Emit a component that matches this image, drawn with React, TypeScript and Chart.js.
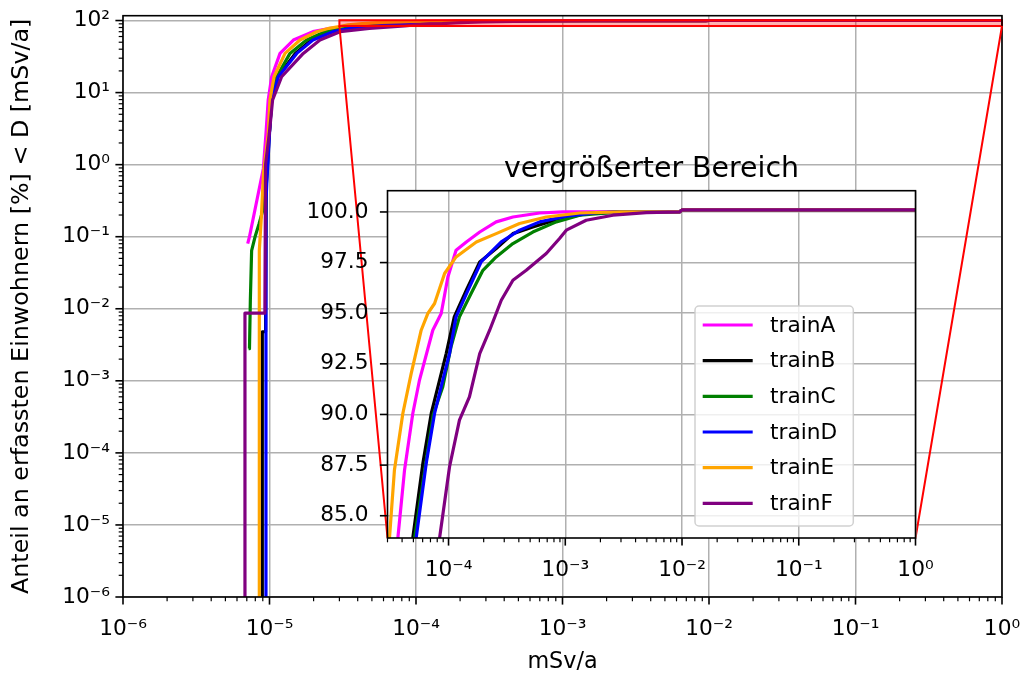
import React, { useEffect, useRef } from 'react';
import { Chart, registerables } from 'chart.js';

Chart.register(...registerables);

// ---------------- data ----------------
const seriesNames = ['trainA', 'trainB', 'trainC', 'trainD', 'trainE', 'trainF'];
const seriesColors = ['#ff00ff', '#000000', '#008000', '#0000ff', '#ffa500', '#800080'];

const trainAX = [7.1e-6, 7.3e-6, 9.08e-6, 9.46e-6, 9.8e-6, 1.035e-5, 1.18e-5, 1.456e-5, 1.98e-5, 2.6e-5, 3.68e-5, 4.2e-5, 4.94e-5, 5.64e-5, 7.33e-5, 8.65e-5, 9.87e-5, 1.16e-4, 1.42e-4, 1.85e-4, 2.56e-4, 3.56e-4, 6.03e-4, 9.55e-4, 3e-3, 9.5e-3, 1e-2, 1];
const trainAY = [0.08, 0.1, 0.885, 2.7, 7.9, 16.6, 35, 53.6, 70, 78, 83.9, 87.26, 90.05, 91.7, 94.16, 94.99, 96.79, 98.11, 98.52, 99.01, 99.51, 99.75, 99.95, 100, 100, 100, 100.1, 100.1];

const trainBX = [8.93e-6, 8.93e-6, 9.4e-6, 9.5e-6, 9.97e-6, 1.035e-5, 1.14e-5, 1.5e-5, 1.93e-5, 2.6e-5, 3.3e-5, 4.94e-5, 6.03e-5, 7.11e-5, 8.38e-5, 9.55e-5, 1.12e-4, 1.42e-4, 1.85e-4, 2.56e-4, 3.56e-4, 5.27e-4, 8.38e-4, 1.51e-3, 3e-3, 9.5e-3, 1e-2, 1];
const trainBY = [0, 0.0048, 0.0048, 0.5, 2.7, 7.9, 16.6, 35, 53.6, 70, 78, 83.9, 87.59, 90.05, 91.7, 93.01, 94.82, 96.14, 97.53, 98.19, 98.93, 99.26, 99.62, 99.92, 100, 100, 100.1, 100.1];

const trainCX = [7.2e-6, 7.3e-6, 7.4e-6, 7.55e-6, 7.96e-6, 8.48e-6, 8.99e-6, 9.3e-6, 9.97e-6, 1.035e-5, 1.12e-5, 1.38e-5, 1.79e-5, 2.4e-5, 3.2e-5, 5.12e-5, 6.3e-5, 7.4e-5, 8.93e-5, 1.05e-4, 1.24e-4, 1.56e-4, 1.97e-4, 2.56e-4, 3.56e-4, 5.27e-4, 8.38e-4, 1.33e-3, 3e-3, 9.5e-3, 1e-2, 1];
const trainCY = [0.0028, 0.0028, 0.013, 0.064, 0.099, 0.15, 0.23, 0.93, 2.7, 7.9, 16.6, 35, 53.6, 70, 78, 83.9, 87.4, 90.0, 91.37, 93.34, 94.82, 95.97, 97.12, 97.78, 98.44, 99.01, 99.51, 99.84, 100, 100, 100.1, 100.1];

const trainDX = [9.46e-6, 9.46e-6, 9.6e-6, 1.0e-5, 1.035e-5, 1.148e-5, 1.535e-5, 1.98e-5, 2.71e-5, 3.6e-5, 5.28e-5, 6.44e-5, 7.59e-5, 8.93e-5, 1.02e-4, 1.16e-4, 1.47e-4, 1.9e-4, 2.83e-4, 4.06e-4, 6.03e-4, 1.02e-3, 1.85e-3, 3e-3, 9.5e-3, 1e-2, 1];
const trainDY = [0, 0.3, 0.6, 2.7, 7.9, 16.6, 35, 53.6, 70, 78, 83.9, 87.59, 90.05, 91.7, 93.01, 94.82, 96.14, 97.53, 98.52, 99.1, 99.51, 99.79, 99.97, 100, 100, 100.1, 100.1];

const trainEX = [8.52e-6, 8.52e-6, 8.8e-6, 9.1e-6, 9.8e-6, 1.007e-5, 1.074e-5, 1.276e-5, 1.615e-5, 2.1e-5, 2.55e-5, 3.12e-5, 3.44e-5, 4.06e-5, 4.79e-5, 5.83e-5, 6.65e-5, 7.59e-5, 9.25e-5, 1.16e-4, 1.73e-4, 2.56e-4, 4.06e-4, 6.87e-4, 1.33e-3, 3e-3, 9.5e-3, 1e-2, 1];
const trainEY = [0, 0.064, 0.19, 0.77, 2.7, 7.9, 16.6, 35, 53.6, 70, 78, 83.9, 87.26, 90.05, 92.03, 94.16, 94.99, 95.48, 96.96, 97.78, 98.52, 98.93, 99.43, 99.75, 99.95, 100, 100, 100.1, 100.1];

const trainFX = [6.8e-6, 6.8e-6, 9.3e-6, 9.4e-6, 9.97e-6, 1.05e-5, 1.21e-5, 1.7e-5, 2.21e-5, 3.03e-5, 4.8e-5, 8.38e-5, 1.02e-4, 1.24e-4, 1.51e-4, 1.85e-4, 2.25e-4, 2.83e-4, 3.56e-4, 4.63e-4, 6.87e-4, 8.93e-4, 1.02e-3, 1.51e-3, 2.56e-3, 4.94e-3, 9.5e-3, 1e-2, 1];
const trainFY = [0, 0.0087, 0.0087, 1.0, 2.7, 7.9, 16.6, 35, 53.6, 70, 78, 83.9, 87.42, 89.72, 90.87, 93.01, 94.16, 95.64, 96.63, 97.12, 97.95, 98.69, 99.1, 99.59, 99.84, 99.97, 100, 100.1, 100.1];

const seriesX = [trainAX, trainBX, trainCX, trainDX, trainEX, trainFX];
const seriesY = [trainAY, trainBY, trainCY, trainDY, trainEY, trainFY];

const mainXRange = [1e-6, 1];
const mainYRange = [1e-6, 116.7];
const insetXRange = [3e-5, 1];
const insetYRange = [83.9, 101.05];
const insetYTicks = [85, 87.5, 90, 92.5, 95, 97.5, 100];

const xTitle = 'mSv/a';
const yTitle = 'Anteil an erfassten Einwohnern [%] < D [mSv/a]';
const insetTitle = 'vergrößerter Bereich';

// ---------------- helpers ----------------
const FONT = 'DejaVu Sans';
const FS = 21.7;
const GRID = '#b0b0b0';
const LOG_FLOOR = 1e-9; // where 0 % lands on a log axis (below the plot, clipped)

const SUP: Record<string, string> = { '-': '⁻', '0': '⁰', '1': '¹', '2': '²', '3': '³', '4': '⁴', '5': '⁵', '6': '⁶', '7': '⁷', '8': '⁸', '9': '⁹' };
const isDecade = (v: number) => {
  const l = Math.log10(v);
  return Math.abs(l - Math.round(l)) < 1e-6;
};
const powLabel = (v: number) => '10' + String(Math.round(Math.log10(v))).split('').map((c) => SUP[c]).join('');
const logTicks = (min: number, max: number) => {
  const out: number[] = [];
  for (let e = Math.floor(Math.log10(min)); e <= Math.ceil(Math.log10(max)); e++) {
    for (let m = 1; m < 10; m++) {
      const v = Number((m * Math.pow(10, e)).toPrecision(10));
      if (v >= min * (1 - 1e-9) && v <= max * (1 + 1e-9)) out.push(v);
    }
  }
  return out;
};
const fixSize = (prop: 'width' | 'height', size: number) => (s: any) => {
  s[prop] = size;
  s.paddingLeft = 0;
  s.paddingRight = 0;
  s.paddingTop = 0;
  s.paddingBottom = 0;
};

function drawTickMarks(chart: any, axisId: string, side: 'bottom' | 'left', allMajor: boolean) {
  const { ctx, chartArea: a } = chart;
  const s = chart.scales[axisId];
  ctx.save();
  ctx.strokeStyle = '#000';
  for (const t of s.ticks) {
    const major = allMajor || isDecade(t.value);
    const len = major ? 7.6 : 4.3;
    ctx.lineWidth = major ? 1.6 : 1.2;
    const p = s.getPixelForValue(t.value);
    ctx.beginPath();
    if (side === 'bottom') {
      ctx.moveTo(p, a.bottom);
      ctx.lineTo(p, a.bottom + len);
    } else {
      ctx.moveTo(a.left - len, p);
      ctx.lineTo(a.left, p);
    }
    ctx.stroke();
  }
  ctx.restore();
}

function drawFrame(ctx: CanvasRenderingContext2D, a: any) {
  ctx.save();
  ctx.strokeStyle = '#000';
  ctx.lineWidth = 1.6;
  ctx.strokeRect(a.left, a.top, a.right - a.left, a.bottom - a.top);
  ctx.restore();
}

function drawLegend(ctx: CanvasRenderingContext2D, a: any) {
  const w = 158.3;
  const h = 220;
  const left = a.right - 62.2 - w;
  const top = a.bottom - 12 - h;
  const r = 4;
  ctx.save();
  ctx.beginPath();
  ctx.moveTo(left + r, top);
  ctx.arcTo(left + w, top, left + w, top + h, r);
  ctx.arcTo(left + w, top + h, left, top + h, r);
  ctx.arcTo(left, top + h, left, top, r);
  ctx.arcTo(left, top, left + w, top, r);
  ctx.closePath();
  ctx.fillStyle = 'rgba(255,255,255,0.8)';
  ctx.fill();
  ctx.strokeStyle = 'rgba(204,204,204,0.9)';
  ctx.lineWidth = 1.5;
  ctx.stroke();
  ctx.font = `${FS}px "${FONT}"`;
  ctx.textBaseline = 'middle';
  ctx.textAlign = 'left';
  seriesNames.forEach((n, i) => {
    const y = top + 19 + i * 35.66;
    ctx.strokeStyle = seriesColors[i];
    ctx.lineWidth = 3.2;
    ctx.beginPath();
    ctx.moveTo(left + 7.7, y);
    ctx.lineTo(left + 57.7, y);
    ctx.stroke();
    ctx.fillStyle = '#000';
    ctx.fillText(n, left + 75, y + 1);
  });
  ctx.restore();
}

const makeDatasets = (logY: boolean) =>
  seriesNames.map((name, i) => ({
    label: name,
    data: seriesX[i].map((x, j) => ({ x, y: logY ? Math.max(seriesY[i][j], LOG_FLOOR) : seriesY[i][j] })),
    borderColor: seriesColors[i],
    backgroundColor: seriesColors[i],
    borderWidth: 3.2,
    pointRadius: 0,
    tension: 0,
    fill: false,
    order: seriesNames.length - i,
    clip: 0,
    borderJoinStyle: 'round' as const,
  }));

export default function App() {
  const mainRef = useRef<HTMLCanvasElement>(null);
  const insetRef = useRef<HTMLCanvasElement>(null);

  useEffect(() => {
    if (!mainRef.current || !insetRef.current) return;
    const tickFont = { family: FONT, size: FS };

    const inset = new Chart(insetRef.current, {
      type: 'line',
      data: { datasets: makeDatasets(false) as any },
      options: {
        responsive: false,
        animation: false,
        devicePixelRatio: 1,
        events: [],
        layout: { padding: { left: 300, top: 190.7, right: 108.5, bottom: 100 } },
        plugins: { legend: { display: false }, tooltip: { enabled: false }, title: { display: false } },
        scales: {
          x: {
            type: 'logarithmic',
            position: 'bottom',
            min: insetXRange[0],
            max: insetXRange[1],
            afterBuildTicks: (s: any) => {
              s.ticks = logTicks(insetXRange[0], insetXRange[1]).map((v) => ({ value: v }));
            },
            afterFit: fixSize('height', 41),
            grid: { color: (c: any) => (c.tick && isDecade(c.tick.value) ? GRID : 'rgba(0,0,0,0)'), lineWidth: 1.5, drawTicks: false },
            border: { display: false },
            ticks: {
              autoSkip: false,
              maxRotation: 0,
              minRotation: 0,
              padding: 19,
              color: '#000',
              font: tickFont,
              callback: (v: any) => (isDecade(Number(v)) ? powLabel(Number(v)) : ''),
            },
          },
          y: {
            type: 'linear',
            position: 'left',
            min: insetYRange[0],
            max: insetYRange[1],
            afterBuildTicks: (s: any) => {
              s.ticks = insetYTicks.map((v) => ({ value: v }));
            },
            afterFit: fixSize('width', 87.5),
            grid: { color: GRID, lineWidth: 1.5, drawTicks: false },
            border: { display: false },
            ticks: {
              autoSkip: false,
              padding: 19,
              color: '#000',
              font: tickFont,
              callback: (v: any) => Number(v).toFixed(1),
            },
          },
        },
      } as any,
      plugins: [
        {
          id: 'insetDecor',
          beforeDraw: (chart: any) => {
            const a = chart.chartArea;
            chart.ctx.save();
            chart.ctx.fillStyle = '#ffffff';
            chart.ctx.fillRect(a.left, a.top, a.right - a.left, a.bottom - a.top);
            chart.ctx.restore();
          },
          afterDraw: (chart: any) => {
            const { ctx, chartArea: a } = chart;
            drawTickMarks(chart, 'x', 'bottom', false);
            drawTickMarks(chart, 'y', 'left', true);
            drawFrame(ctx, a);
            drawLegend(ctx, a);
            ctx.save();
            ctx.font = `28.4px "${FONT}"`;
            ctx.fillStyle = '#000';
            ctx.textAlign = 'center';
            ctx.textBaseline = 'alphabetic';
            ctx.fillText(insetTitle, (a.left + a.right) / 2, a.top - 14);
            ctx.restore();
          },
        },
      ],
    });

    const main = new Chart(mainRef.current, {
      type: 'line',
      data: { datasets: makeDatasets(true) as any },
      options: {
        responsive: false,
        animation: false,
        devicePixelRatio: 1,
        events: [],
        layout: { padding: { left: 0, top: 15.7, right: 22, bottom: 0 } },
        plugins: { legend: { display: false }, tooltip: { enabled: false }, title: { display: false } },
        scales: {
          x: {
            type: 'logarithmic',
            position: 'bottom',
            min: mainXRange[0],
            max: mainXRange[1],
            afterBuildTicks: (s: any) => {
              s.ticks = logTicks(mainXRange[0], mainXRange[1]).map((v) => ({ value: v }));
            },
            afterFit: fixSize('height', 82),
            grid: { color: (c: any) => (c.tick && isDecade(c.tick.value) ? GRID : 'rgba(0,0,0,0)'), lineWidth: 1.5, drawTicks: false },
            border: { display: false },
            ticks: {
              autoSkip: false,
              maxRotation: 0,
              minRotation: 0,
              padding: 19,
              color: '#000',
              font: tickFont,
              callback: (v: any) => (isDecade(Number(v)) ? powLabel(Number(v)) : ''),
            },
            title: { display: true, text: xTitle, color: '#000', font: { family: FONT, size: 22.3, lineHeight: 1.2 }, padding: { top: 0, bottom: 3 } },
          },
          y: {
            type: 'logarithmic',
            position: 'left',
            min: mainYRange[0],
            max: mainYRange[1],
            afterBuildTicks: (s: any) => {
              s.ticks = logTicks(mainYRange[0], mainYRange[1]).map((v) => ({ value: v }));
            },
            afterFit: fixSize('width', 123),
            grid: { color: (c: any) => (c.tick && isDecade(c.tick.value) ? GRID : 'rgba(0,0,0,0)'), lineWidth: 1.5, drawTicks: false },
            border: { display: false },
            ticks: {
              autoSkip: false,
              padding: 13,
              color: '#000',
              font: tickFont,
              callback: (v: any) => (isDecade(Number(v)) ? powLabel(Number(v)) : ''),
            },
            title: { display: true, text: yTitle, color: '#000', font: { family: FONT, size: 23.8, lineHeight: 1.2 }, padding: { top: 8, bottom: 0 } },
          },
        },
      } as any,
      plugins: [
        {
          id: 'mainDecor',
          afterDraw: (chart: any) => {
            const { ctx, chartArea: a, scales } = chart;
            drawTickMarks(chart, 'x', 'bottom', false);
            drawTickMarks(chart, 'y', 'left', false);
            // zoom indicator rectangle
            const x0 = scales.x.getPixelForValue(insetXRange[0]);
            const x1 = scales.x.getPixelForValue(insetXRange[1]);
            const y0 = scales.y.getPixelForValue(insetYRange[0]);
            const y1 = scales.y.getPixelForValue(insetYRange[1]);
            ctx.save();
            ctx.fillStyle = 'rgba(255,0,0,0.3)';
            ctx.fillRect(x0, y1, x1 - x0, y0 - y1);
            ctx.strokeStyle = '#ff0000';
            ctx.lineWidth = 2;
            ctx.strokeRect(x0, y1, x1 - x0, y0 - y1);
            ctx.restore();
            drawFrame(ctx, a);
            // connectors to inset corners
            const ia = inset.chartArea;
            if (ia) {
              ctx.save();
              ctx.strokeStyle = '#ff0000';
              ctx.lineWidth = 2;
              ctx.beginPath();
              ctx.moveTo(x0, y0);
              ctx.lineTo(ia.left, ia.bottom);
              ctx.moveTo(x1, y0);
              ctx.lineTo(ia.right, ia.bottom);
              ctx.stroke();
              ctx.restore();
            }
          },
        },
      ],
    });

    return () => {
      main.destroy();
      inset.destroy();
    };
  }, []);

  return (
    <div style={{ position: 'fixed', left: 0, top: 0, width: 1024, height: 679, background: '#fff' }}>
      <canvas ref={mainRef} width={1024} height={679} style={{ position: 'absolute', left: 0, top: 0 }} />
      <canvas ref={insetRef} width={1024} height={679} style={{ position: 'absolute', left: 0, top: 0 }} />
    </div>
  );
}
